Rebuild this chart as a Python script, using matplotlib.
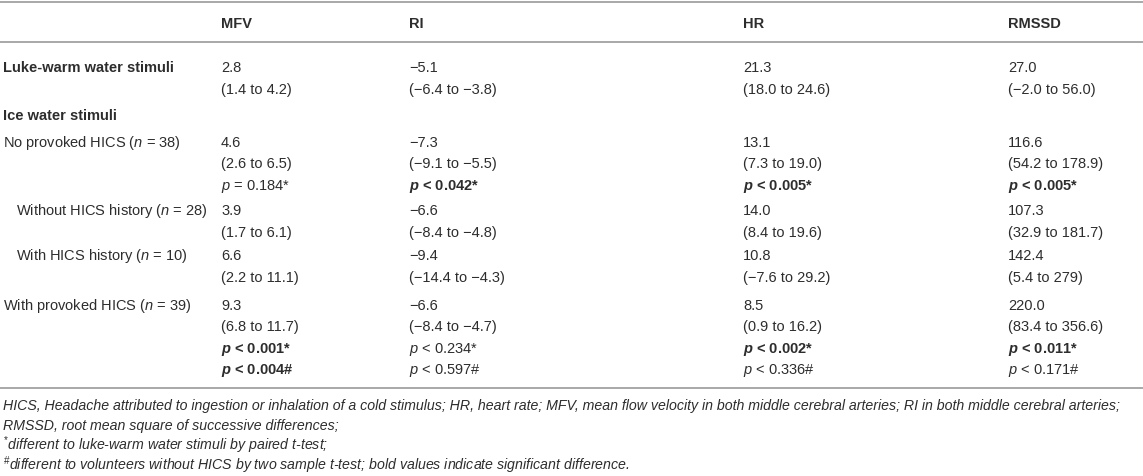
import matplotlib
matplotlib.use("Agg")
import matplotlib.pyplot as plt

plt.rcParams['font.family'] = ['Liberation Sans', 'DejaVu Sans']
plt.rcParams['mathtext.fontset'] = 'custom'
plt.rcParams['mathtext.rm'] = 'Liberation Sans'
plt.rcParams['mathtext.it'] = 'Liberation Sans:italic'
plt.rcParams['mathtext.bf'] = 'Liberation Sans:bold'
plt.rcParams['mathtext.bfit'] = 'Liberation Sans:italic:bold'

# ---------------- data ----------------
columns = ["MFV", "RI", "HR", "RMSSD"]

luke_mean = [2.8, -5.1, 21.3, 27.0]
luke_ci = [(1.4, 4.2), (-6.4, -3.8), (18.0, 24.6), (-2.0, 56.0)]

no_prov_mean = [4.6, -7.3, 13.1, 116.6]
no_prov_ci = [(2.6, 6.5), (-9.1, -5.5), (7.3, 19.0), (54.2, 178.9)]
no_prov_p = [0.184, 0.042, 0.005, 0.005]
no_prov_rel = ["=", "<", "<", "<"]
no_prov_sig = [False, True, True, True]

without_mean = [3.9, -6.6, 14.0, 107.3]
without_ci = [(1.7, 6.1), (-8.4, -4.8), (8.4, 19.6), (32.9, 181.7)]

with_hist_mean = [6.6, -9.4, 10.8, 142.4]
with_hist_ci = [(2.2, 11.1), (-14.4, -4.3), (-7.6, 29.2), (5.4, 279)]

prov_mean = [9.3, -6.6, 8.5, 220.0]
prov_ci = [(6.8, 11.7), (-8.4, -4.7), (0.9, 16.2), (83.4, 356.6)]
prov_p_paired = [0.001, 0.234, 0.002, 0.011]
prov_sig_paired = [True, False, True, True]
prov_p_two = [0.004, 0.597, 0.336, 0.171]
prov_sig_two = [True, False, False, False]

footnotes = [
    ("", "HICS, Headache attributed to ingestion or inhalation of a cold stimulus; HR, heart rate; "
         "MFV, mean flow velocity in both middle cerebral arteries; RI in both middle cerebral arteries;"),
    ("", "RMSSD, root mean square of successive differences;"),
    ("*", "different to luke-warm water stimuli by paired t-test;"),
    ("#", "different to volunteers without HICS by two sample t-test; bold values indicate significant difference."),
]

# ---------------- layout ----------------
W, H = 1143, 477
TXT = "#2d2d2d"
RULE = "#a8a8a8"
FS = 10.5
FS_NOTE = 10.2

col_x = [221, 409, 743, 1008]
lab_x = 3
sub_x = 16


def num(v):
    if isinstance(v, int):
        s = str(v)
    else:
        s = f"{v:.1f}"
    return s.replace("-", "\u2212")


def ci(t):
    return f"({num(t[0])} to {num(t[1])})"


def pstr(rel, p, sig):
    pm = r"$\mathbfit{p}$" if sig else r"$\mathit{p}$"
    return f"{pm} {rel} {p:.3f}"


fig = plt.figure(figsize=(W / 100, H / 100), dpi=100)
ax = fig.add_axes([0, 0, 1, 1])
ax.set_xlim(0, W)
ax.set_ylim(H, 0)
ax.axis("off")


def put(x, y, s, bold=False, italic=False, size=FS):
    ax.text(x, y, s, fontsize=size, color=TXT, va="baseline", ha="left",
            fontweight="bold" if bold else "normal",
            fontstyle="italic" if italic else "normal")


for yy in (3, 43, 389):
    ax.axhline(yy, color=RULE, lw=1.4)

# header
for x, c in zip(col_x, columns):
    put(x, 28, c, bold=True)

# Luke-warm
put(lab_x, 72, "Luke-warm water stimuli", bold=True)
for x, m, c in zip(col_x, luke_mean, luke_ci):
    put(x, 72, num(m))
    put(x, 94, ci(c))

put(lab_x, 120, "Ice water stimuli", bold=True)

# No provoked
put(lab_x, 147, r"No provoked HICS ($\mathit{n}$ = 38)")
for i, x in enumerate(col_x):
    put(x, 147, num(no_prov_mean[i]))
    put(x, 168, ci(no_prov_ci[i]))
    put(x, 190, pstr(no_prov_rel[i], no_prov_p[i], no_prov_sig[i]) + "*", bold=no_prov_sig[i])

# Without history
put(sub_x, 215, r"Without HICS history ($\mathit{n}$ = 28)")
for i, x in enumerate(col_x):
    put(x, 215, num(without_mean[i]))
    put(x, 237, ci(without_ci[i]))

# With history
put(sub_x, 260, r"With HICS history ($\mathit{n}$ = 10)")
for i, x in enumerate(col_x):
    put(x, 260, num(with_hist_mean[i]))
    put(x, 282, ci(with_hist_ci[i]))

# Provoked
put(lab_x, 310, r"With provoked HICS ($\mathit{n}$ = 39)")
for i, x in enumerate(col_x):
    put(x, 310, num(prov_mean[i]))
    put(x, 331, ci(prov_ci[i]))
    put(x, 353, pstr("<", prov_p_paired[i], prov_sig_paired[i]) + "*", bold=prov_sig_paired[i])
    put(x, 374, pstr("<", prov_p_two[i], prov_sig_two[i]) + "#", bold=prov_sig_two[i])

# footnotes
for k, (sup, txt) in enumerate(footnotes):
    y = 410 + 20 * k
    s = txt
    if sup:
        s = r"$^{\mathrm{" + ("\\#" if sup == "#" else "*") + r"}}$" + txt
    put(lab_x, y, s, italic=True, size=FS_NOTE)

fig.savefig("out.png", dpi=100)
